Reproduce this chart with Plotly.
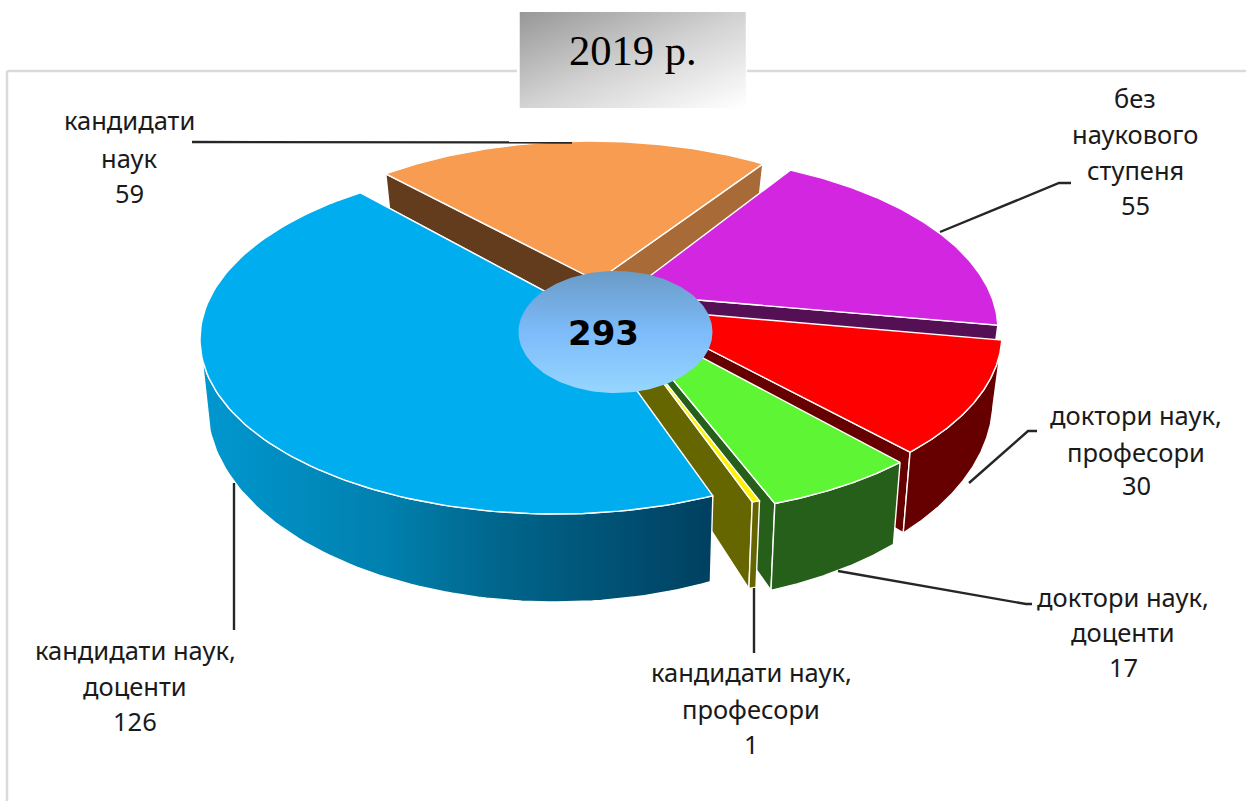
import numpy as np
import plotly.graph_objects as go

# ---- data ----
CATEGORIES = ["кандидати наук", "без наукового ступеня", "доктори наук, професори",
              "доктори наук, доценти", "кандидати наук, професори", "кандидати наук, доценти"]
VALUES = [59, 55, 30, 17, 1, 126]
TOTAL_LABEL = "293"
TITLE = "2019 р."
LABEL_LINES = [
    ["кандидати", "наук", "59"],
    ["без", "наукового", "ступеня", "55"],
    ["доктори наук,", "професори", "30"],
    ["доктори наук,", "доценти", "17"],
    ["кандидати наук,", "професори", "1"],
    ["кандидати наук,", "доценти", "126"],
]

# ---- style / projection ----
W, H = 1246, 801
TOP = ["#F79C51", "#D226E0", "#FF0000", "#5EF535", "#FFF200", "#00AEEF"]
END_FACE = ["#A86A36", "#550F55", "#660000", "#255F19", "#666600", "#005070"]
OUTER = [None, None, "#660000", "#255F19", "#666600", "grad"]
START_FACE = ["#633C1E", None, None, None, None, None]
RX = [350, 350, 350, 350, 350, 355]
RY = 175
ELLIPSE_CENTRE = [(590, 316), (648, 330), (652, 334), (650, 340), (647, 335), (555, 339)]
HUB = [(597, 281), (626, 294), (628, 308), (618, 313), (620, 325), (578, 309)]
START_DEG = 130
WARP = [(-4.3, 4.15), (9.75, 14.1), (10.5, 7.5), (5.6, 2.15), (0, 0), (8.9, -6.7)]
LABEL_X = [129, 1135, 1136, 1123, 751, 135]
LABEL_Y = [[120, 158, 193], [98, 134, 170, 205], [415, 452, 485], [597, 632, 667],
           [672, 709, 744], [650, 686, 721]]
LEADERS = [
    [(192, 142), (572, 142.5)],
    [(940, 232), (1059, 183), (1071, 183)],
    [(969, 483), (1028, 431), (1037, 431)],
    [(838, 571), (1026, 604), (1032, 604)],
    [(754, 588), (754, 653)],
    [(234, 483), (234, 630)],
]
INK = "#262626"
LABEL_FONT = "Noto Sans"
LABEL_SIZE = 25.5


def depth(y):
    return 30 + 57 * (np.clip(np.asarray(y, float) - 160, 0, None) / 345) ** 0.7


def drop(x, y):
    x, y = np.asarray(x, float), np.asarray(y, float)
    k = np.where(x < 600, 0.018, 0.022)
    return x - k * (x - 600), y + depth(y)


fig = go.Figure()


def poly(x, y, color=None, edge="white", gradient=None, lw=1.4):
    x = np.r_[x, x[0]]
    y = np.r_[y, y[0]]
    kw = dict(fillgradient=gradient) if gradient else dict(fillcolor=color)
    fig.add_trace(go.Scatter(x=x, y=y, mode="lines", fill="toself", hoverinfo="skip",
                             showlegend=False, line=dict(color=edge, width=lw), **kw))


# title box gradient
gx = np.linspace(521, 744, 90)
gy = np.linspace(13, 107, 48)
gz = (gx[None, :] - 521) / 223 * 0.5 + (gy[:, None] - 13) / 94 * 0.5
fig.add_trace(go.Heatmap(x=gx, y=gy, z=gz, showscale=False, hoverinfo="skip", zmin=0, zmax=1,
                         colorscale=[[0, "#989898"], [0.5, "#D2D2D2"], [1, "#FFFFFF"]]))

# slices, back to front
total = sum(VALUES)
cum = START_DEG
for i, v in enumerate(VALUES):
    a0 = cum + WARP[i][0]
    a1 = cum - v / total * 360 + WARP[i][1]
    cum -= v / total * 360
    th = np.radians(np.linspace(a0, a1, 120))
    ex, ey = ELLIPSE_CENTRE[i]
    ax, ay = HUB[i]
    arcx = ex + RX[i] * np.cos(th)
    arcy = ey - RY * np.sin(th)
    # radial faces
    bax, bay = drop(ax, ay)
    if START_FACE[i]:
        bx, by = drop(arcx[0], arcy[0])
        poly(np.array([ax, arcx[0], bx, bax]), np.array([ay, arcy[0], by, bay]), START_FACE[i])
    bx, by = drop(arcx[-1], arcy[-1])
    poly(np.array([ax, arcx[-1], bx, bax]), np.array([ay, arcy[-1], by, bay]), END_FACE[i])
    # outer side
    if OUTER[i]:
        keep = np.degrees(th) >= -180
        ox, oy = arcx[keep], arcy[keep]
        dx, dy = drop(ox, oy)
        px, py = np.r_[ox, dx[::-1]], np.r_[oy, dy[::-1]]
        if OUTER[i] == "grad":
            poly(px, py, gradient=dict(type="horizontal",
                 colorscale=[[0, "#0098D0"], [0.365, "#0080AE"], [0.58, "#00668C"], [1, "#004060"]]))
        else:
            poly(px, py, OUTER[i])
    # top
    poly(np.r_[ax, arcx], np.r_[ay, arcy], TOP[i])

# central bubble
t = np.linspace(0, 2 * np.pi, 160)
poly(615.5 + 97 * np.cos(t), 332 + 61 * np.sin(t), edge="rgba(0,0,0,0)", lw=0,
     gradient=dict(type="vertical",
                   colorscale=[[0, "#96D6FF"], [0.5, "#7DBBFA"], [1, "#6A9BC6"]]))

# leader lines
for seg in LEADERS:
    fig.add_trace(go.Scatter(x=[p[0] for p in seg], y=[p[1] for p in seg], mode="lines",
                             hoverinfo="skip", showlegend=False,
                             line=dict(color=INK, width=2.4)))

# frame
frame = dict(type="line", xref="x", yref="y", line=dict(color="#DADADA", width=2.5))
shapes = [dict(frame, x0=7, y0=801, x1=7, y1=71), dict(frame, x0=7, y0=71, x1=517, y1=71),
          dict(frame, x0=747, y0=71, x1=1246, y1=71)]

ann = [dict(x=633, y=50, text=TITLE, showarrow=False, xref="x", yref="y",
            font=dict(family="Liberation Serif", size=42.5, color="black")),
       dict(x=603, y=333, text="<b>%s</b>" % TOTAL_LABEL, showarrow=False, xref="x", yref="y",
            font=dict(family="DejaVu Sans", size=34, color="black"))]
for lines, ys, x in zip(LABEL_LINES, LABEL_Y, LABEL_X):
    for s, y in zip(lines, ys):
        ann.append(dict(x=x, y=y, text=s, showarrow=False, xref="x", yref="y",
                        font=dict(family=LABEL_FONT, size=LABEL_SIZE, color="#1A1A1A")))

fig.update_layout(width=W, height=H, margin=dict(l=0, r=0, t=0, b=0), showlegend=False,
                  paper_bgcolor="white", plot_bgcolor="white", shapes=shapes, annotations=ann,
                  xaxis=dict(range=[0, W], visible=False, fixedrange=True),
                  yaxis=dict(range=[H, 0], visible=False, fixedrange=True))
fig.write_html("out.html", config=dict(displayModeBar=False),
               post_script="document.body.style.margin='0';document.body.style.overflow='hidden';")
